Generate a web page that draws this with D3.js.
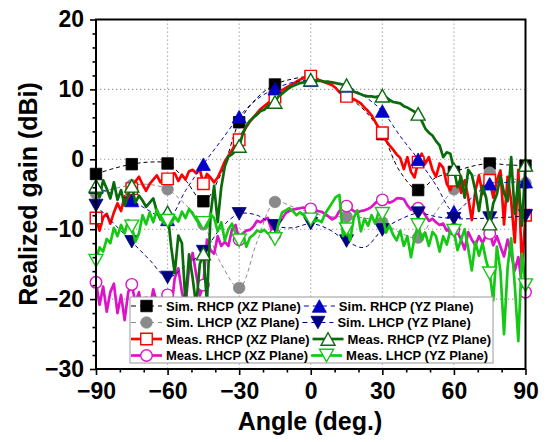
<!DOCTYPE html>
<html><head><meta charset="utf-8">
<script src="https://cdn.jsdelivr.net/npm/d3@7"></script>
<style>
body{margin:0;background:#fff;}
svg{display:block;font-family:"Liberation Sans",Arial,Helvetica,sans-serif;font-weight:bold;}
</style>
</head><body><svg id="chart" width="548" height="442"></svg>
<script>
// ---------------- DATA ----------------
const xTicks = [-90, -60, -30, 0, 30, 60, 90];
const yTicks = [-30, -20, -10, 0, 10, 20];

// simulated data (markers every 15 deg)
const simAngles = [-90,-82.5,-75,-67.5,-60,-52.5,-45,-37.5,-30,-22.5,-15,-7.5,0,7.5,15,22.5,30,37.5,45,52.5,60,67.5,75,82.5,90];
const simRhcpXz = [-2.1,-1.3,-0.7,-0.4,-0.6,-3.0,-6.0,-2.0,5.3,8.8,10.7,11.5,11.8,10.8,9.1,7.0,3.6,-1.8,-4.4,-2.6,-1.8,-1.0,-0.6,-0.8,-0.9];
const simLhcpXz = [-4.9,-4.2,-3.7,-3.6,-4.3,-6.5,-9.3,-15.0,-18.4,-11.8,-6.1,-6.8,-7.6,-8.2,-8.2,-8.4,-9.0,-10.5,-11.2,-7.5,-4.3,-2.5,-1.9,-2.5,-3.4];
const simRhcpYz = [-4.0,-5.0,-5.9,-7.4,-8.6,-4.5,-0.7,2.7,6.1,8.6,10.1,11.0,11.3,11.0,10.5,9.0,6.9,3.3,0.0,-3.7,-7.5,-5.5,-3.5,-3.3,-3.2];
const simLhcpYz = [-6.6,-9.2,-11.8,-14.4,-16.9,-15.2,-13.2,-9.8,-7.8,-8.0,-9.5,-9.8,-9.2,-10.0,-11.7,-12.6,-10.1,-8.6,-7.7,-8.2,-8.5,-8.5,-8.4,-8.3,-8.1];

// measured data
const measAngles = [-90,-88.5,-87,-85.5,-84,-82.5,-81,-79.5,-78,-76.5,
-75,-73.5,-72,-70.5,-69,-67.5,-66,-64.5,-63,-61.5,
-60,-58.5,-57,-55.5,-54,-52.5,-51,-49.5,-48,-46.5,
-45,-43.5,-42,-40.5,-39,-37.5,-36,-34.5,-33,-31.5,
-30,-28.5,-27,-25.5,-24,-22.5,-21,-19.5,-18,-16.5,
-15,-13.5,-12,-10.5,-9,-7.5,-6,-4.5,-3,-1.5,
0,1.5,3,4.5,6,7.5,9,10.5,12,13.5,
15,16.5,18,19.5,21,22.5,24,25.5,27,28.5,
30,31.5,33,34.5,36,37.5,39,40.5,42,43.5,
45,46.5,48,49.5,51,52.5,54,55.5,57,58.5,
60,61.5,63,64.5,66,67.5,69,70.5,72,73.5,
75,76.5,78,79.5,81,82.5,84,85.5,87,88.5,
90];
const measRhcpXz = [-8.4,-10.2,-8.3,-7.8,-9.2,-7.6,-6.3,-7.4,-5.3,-5.9,
-4.2,-3.2,-2.5,-3.6,-4.5,-3.5,-2.9,-2.3,-3.3,-2.6,
-2.8,-2.2,-2.0,-3.1,-2.2,-2.9,-1.7,-1.5,-2.0,-1.4,
-3.5,-2.1,-2.6,-3.3,-2.6,-1.5,-0.3,0.5,1.3,2.2,
2.8,3.8,4.6,5.4,6.0,6.6,7.2,7.6,8.0,8.4,
8.9,9.4,9.9,10.2,10.5,10.8,11.1,11.4,11.6,11.8,
11.9,11.7,11.4,11.2,11.0,10.8,10.6,10.2,9.6,9.2,
9.0,8.8,8.6,8.3,8.0,7.4,6.9,6.3,5.4,4.5,
3.8,2.7,2.0,1.4,0.7,0.2,-1.4,0.3,-1.8,-2.6,
-0.4,0.8,-0.6,0.3,-1.5,-2.5,-0.6,-1.2,-3.5,-4.4,
-3.0,-1.6,-4.8,-3.0,-5.5,-8.7,-4.5,-2.3,-5.0,-2.5,
-3.0,-5.5,-3.0,-1.6,-9.3,-2.5,-6.0,-11.9,-1.5,-15.6,
-8.0];
const measLhcpXz = [-17.6,-20.8,-18.2,-21.8,-19.0,-17.8,-22.0,-19.4,-23.0,-19.0,
-17.9,-20.5,-19.0,-22.0,-19.8,-21.5,-18.6,-20.5,-22.5,-19.2,
-19.4,-21.5,-17.0,-15.6,-19.0,-21.0,-15.5,-13.4,-16.5,-19.5,
-18.0,-11.5,-13.0,-13.5,-11.0,-12.4,-11.8,-12.4,-10.0,-9.4,
-11.5,-10.6,-10.2,-10.1,-9.6,-8.8,-9.0,-8.6,-8.4,-10.0,
-10.8,-9.2,-8.5,-7.7,-7.4,-7.2,-7.1,-7.0,-6.9,-7.0,
-7.1,-7.2,-7.4,-7.5,-7.8,-8.2,-8.6,-8.3,-7.4,-6.8,
-6.7,-7.0,-7.4,-7.6,-7.4,-7.3,-7.1,-6.8,-6.3,-5.8,
-5.8,-6.0,-6.2,-6.0,-5.6,-5.6,-5.7,-6.6,-7.2,-6.8,
-7.0,-7.2,-8.0,-8.8,-8.5,-9.0,-9.4,-9.2,-10.2,-9.8,
-10.0,-10.4,-11.5,-12.9,-10.4,-11.5,-12.3,-11.0,-12.0,-10.8,
-10.6,-12.3,-11.0,-12.5,-13.9,-11.5,-13.5,-15.9,-14.0,-18.0,
-19.0];
const measRhcpYz = [-3.8,-5.4,-3.0,-4.2,-5.6,-3.3,-5.8,-4.4,-6.6,-5.0,
-3.8,-6.2,-5.2,-5.9,-6.8,-6.2,-5.6,-7.5,-8.6,-7.8,
-7.6,-12.5,-16.3,-10.9,-12.0,-20.5,-13.6,-17.0,-21.0,-15.0,
-13.5,-20.5,-8.0,-3.8,-9.0,-4.0,-1.0,0.4,0.7,1.2,
1.9,3.6,4.8,5.5,6.0,6.4,6.9,7.1,7.6,7.9,
8.2,9.0,9.4,9.8,10.2,10.5,10.7,10.9,11.0,11.2,
11.4,11.3,11.2,11.2,11.1,11.1,11.0,10.9,10.8,10.7,
10.6,10.1,9.7,9.5,9.3,9.1,9.0,9.0,8.9,9.0,
9.1,8.9,8.5,8.2,8.1,8.0,7.6,7.4,7.1,6.8,
6.5,5.5,4.4,3.8,3.4,2.6,2.0,0.3,1.0,0.8,
-1.4,-4.0,-2.5,-5.5,-1.5,-2.2,-4.5,-7.4,-3.8,-5.5,
-9.2,-6.3,-5.0,-2.4,-4.8,-6.0,0.3,-7.8,-3.0,-9.5,
-0.8];
const measLhcpYz = [-14.5,-12.6,-13.2,-11.4,-12.0,-9.8,-11.0,-9.4,-10.6,-8.7,
-9.6,-11.8,-10.6,-8.0,-9.3,-7.6,-9.0,-7.2,-8.4,-9.2,
-8.8,-9.2,-8.2,-8.9,-7.5,-8.4,-7.1,-7.8,-8.6,-9.4,
-9.1,-9.6,-7.8,-8.4,-10.3,-9.0,-11.6,-10.0,-9.2,-10.6,
-11.6,-10.6,-12.5,-11.2,-10.8,-10.2,-10.4,-10.1,-10.6,-10.9,
-11.4,-9.2,-7.6,-7.3,-7.0,-7.4,-8.0,-7.6,-8.0,-8.6,
-8.6,-8.9,-8.7,-9.0,-7.8,-7.0,-6.2,-5.4,-5.1,-11.0,
-10.0,-11.6,-8.4,-7.3,-10.3,-8.5,-9.5,-8.0,-9.2,-7.5,
-7.8,-10.5,-9.5,-10.8,-11.6,-10.2,-12.4,-11.0,-14.0,-11.2,
-9.4,-11.5,-10.5,-12.4,-10.4,-11.0,-13.2,-11.0,-12.2,-10.2,
-10.2,-13.0,-11.5,-10.0,-12.8,-15.9,-11.8,-13.8,-12.0,-14.5,
-16.3,-20.2,-12.5,-16.0,-25.0,-15.5,-11.3,-18.0,-26.0,-13.5,
-18.0];

const seriesNames = ["Sim. RHCP (XZ Plane)","Sim. LHCP (XZ Plane)","Meas. RHCP (XZ Plane)","Meas. LHCP (XZ Plane)",
                     "Sim. RHCP (YZ Plane)","Sim. LHCP (YZ Plane)","Meas. RHCP (YZ Plane)","Meas. LHCP (YZ Plane)"];

// ---------------- STYLES ----------------
const series = [
  {name:seriesNames[0], xs:simAngles,  ys:simRhcpXz,  color:"#000000", sim:true,  marker:"square", fill:"#000000", every:2},
  {name:seriesNames[1], xs:simAngles,  ys:simLhcpXz,  color:"#8a8a8a", sim:true,  marker:"circle", fill:"#8a8a8a", every:2},
  {name:seriesNames[2], xs:measAngles, ys:measRhcpXz, color:"#ff0000", sim:false, marker:"square", fill:"#ffffff", every:10},
  {name:seriesNames[3], xs:measAngles, ys:measLhcpXz, color:"#dc14c8", sim:false, marker:"circle", fill:"#ffffff", every:10},
  {name:seriesNames[4], xs:simAngles,  ys:simRhcpYz,  color:"#0000c8", sim:true,  marker:"up",     fill:"#0000c8", every:2},
  {name:seriesNames[5], xs:simAngles,  ys:simLhcpYz,  color:"#000080", sim:true,  marker:"down",   fill:"#000080", every:2},
  {name:seriesNames[6], xs:measAngles, ys:measRhcpYz, color:"#0a6b0a", sim:false, marker:"up",     fill:"#ffffff", every:10},
  {name:seriesNames[7], xs:measAngles, ys:measLhcpYz, color:"#14c814", sim:false, marker:"down",   fill:"#ffffff", every:10}
];
const drawOrder = [0,1,2,3,4,5,6,7];

// ---------------- LAYOUT ----------------
const plot = {left:96, right:525.5, top:19.5, bottom:369};
const svg = d3.select("#chart");

const x = d3.scaleLinear().domain([-90, 90]).range([plot.left, plot.right]);
const y = d3.scaleLinear().domain([-30, 20]).range([plot.bottom, plot.top]);

// grid
const grid = svg.append("g").attr("stroke", "#9a9a9a").attr("stroke-width", 1.1).attr("stroke-dasharray", "1.3,2.7");
xTicks.filter(v => v > -90 && v < 90).forEach(v => {
  grid.append("line").attr("x1", x(v)).attr("x2", x(v)).attr("y1", plot.top).attr("y2", plot.bottom);
});
yTicks.filter(v => v > -30 && v < 20).forEach(v => {
  grid.append("line").attr("x1", plot.left).attr("x2", plot.right).attr("y1", y(v)).attr("y2", y(v));
});

// clip for lines
svg.append("defs").append("clipPath").attr("id", "clip")
  .append("rect").attr("x", plot.left).attr("y", plot.top)
  .attr("width", plot.right - plot.left).attr("height", plot.bottom - plot.top);

function markerPath(type, s) {
  const h = s / 2;
  if (type === "square") return `M${-h},${-h}H${h}V${h}H${-h}Z`;
  if (type === "circle") { const r = s * 0.48; return `M${r},0A${r},${r} 0 1,1 ${-r},0A${r},${r} 0 1,1 ${r},0Z`; }
  const w = s * 0.56, t = s * 0.5;
  if (type === "up") return `M0,${-t}L${w},${t}L${-w},${t}Z`;
  return `M0,${t}L${w},${-t}L${-w},${-t}Z`;
}
const markerSize = {square: 11.5, circle: 12, up: 12.5, down: 12.5};

const lineGen = (sim) => d3.line()
  .x(d => x(d[0])).y(d => y(d[1]))
  .curve(sim ? d3.curveCatmullRom.alpha(0.5) : d3.curveLinear);

const seriesLayer = svg.append("g");
drawOrder.forEach(i => {
  const s = series[i];
  const pts = s.xs.map((a, k) => [a, s.ys[k]]);
  const g = seriesLayer.append("g");
  g.append("path").datum(pts)
    .attr("clip-path", "url(#clip)")
    .attr("fill", "none")
    .attr("stroke", s.color)
    .attr("stroke-width", s.sim ? 1 : 2.7)
    .attr("stroke-linejoin", "round")
    .attr("stroke-dasharray", s.sim ? "4,3" : null)
    .attr("d", lineGen(s.sim));
  g.selectAll("path.m").data(pts.filter((p, k) => k % s.every === 0)).enter()
    .append("path").attr("class", "m")
    .attr("transform", d => `translate(${x(d[0])},${y(d[1])})`)
    .attr("d", markerPath(s.marker, markerSize[s.marker]))
    .attr("fill", s.fill)
    .attr("stroke", s.color)
    .attr("stroke-width", s.sim ? 0.8 : 1.4);
});

// frame
svg.append("rect").attr("x", plot.left).attr("y", plot.top)
  .attr("width", plot.right - plot.left).attr("height", plot.bottom - plot.top)
  .attr("fill", "none").attr("stroke", "#000").attr("stroke-width", 2);

// axes
const axL = svg.append("g").attr("transform", `translate(${plot.left},0)`)
  .call(d3.axisLeft(y).tickValues(yTicks).tickSize(6).tickPadding(6));
const axLm = svg.append("g").attr("transform", `translate(${plot.left},0)`)
  .call(d3.axisLeft(y).tickValues(d3.range(-30, 20.01, 2).filter(v => v % 10 !== 0)).tickSize(3.5).tickFormat(""));
const axB = svg.append("g").attr("transform", `translate(0,${plot.bottom})`)
  .call(d3.axisBottom(x).tickValues(xTicks).tickSize(6).tickPadding(8));
const axBm = svg.append("g").attr("transform", `translate(0,${plot.bottom})`)
  .call(d3.axisBottom(x).tickValues(d3.range(-90, 90.01, 10).filter(v => v % 30 !== 0)).tickSize(3.5).tickFormat(""));
[axL, axLm, axB, axBm].forEach(a => {
  a.select(".domain").remove();
  a.selectAll("line").attr("stroke", "#000").attr("stroke-width", 1.6);
  a.selectAll("text").attr("font-size", 23).attr("font-weight", "bold")
    .attr("font-family", '"Liberation Sans",Arial,sans-serif').attr("fill", "#000");
});

// titles
svg.append("text").attr("x", 310).attr("y", 430).attr("text-anchor", "middle")
  .attr("font-size", 25).attr("fill", "#000").text("Angle (deg.)");
svg.append("text").attr("transform", "translate(37,194) rotate(-90)").attr("text-anchor", "middle")
  .attr("font-size", 25).attr("fill", "#000").text("Realized gain (dBi)");

// legend
const leg = {x:130, y:297, w:363, h:66, rows:[306, 322.5, 339, 355.5]};
const lg = svg.append("g");
lg.append("rect").attr("x", leg.x).attr("y", leg.y).attr("width", leg.w).attr("height", leg.h)
  .attr("fill", "#fff").attr("stroke", "#9a9a9a").attr("stroke-width", 1);
const legendCols = [[0,1,2,3],[4,5,6,7]];
function legendItem(si, x0, yc) {
  const s = series[si];
  const len = 31;
  lg.append("line").attr("x1", x0).attr("x2", x0 + len).attr("y1", yc).attr("y2", yc)
    .attr("stroke", s.color).attr("stroke-width", s.sim ? 1 : 2.7)
    .attr("stroke-dasharray", s.sim ? "5,4" : null);
  lg.append("path").attr("transform", `translate(${x0 + len / 2},${yc})`)
    .attr("d", markerPath(s.marker, markerSize[s.marker]))
    .attr("fill", s.fill).attr("stroke", s.color).attr("stroke-width", s.sim ? 0.8 : 1.4);
  const t = lg.append("text").attr("x", x0 + len + 4).attr("y", yc + 4.7)
    .attr("font-size", 13).attr("fill", "#000").text(s.name);
  return x0 + len + 4 + t.node().getComputedTextLength();
}
leg.rows.forEach((yc, r) => {
  const end1 = legendItem(legendCols[0][r], 131, yc);
  legendItem(legendCols[1][r], end1 + 3, yc);
});
</script>
</body></html>
